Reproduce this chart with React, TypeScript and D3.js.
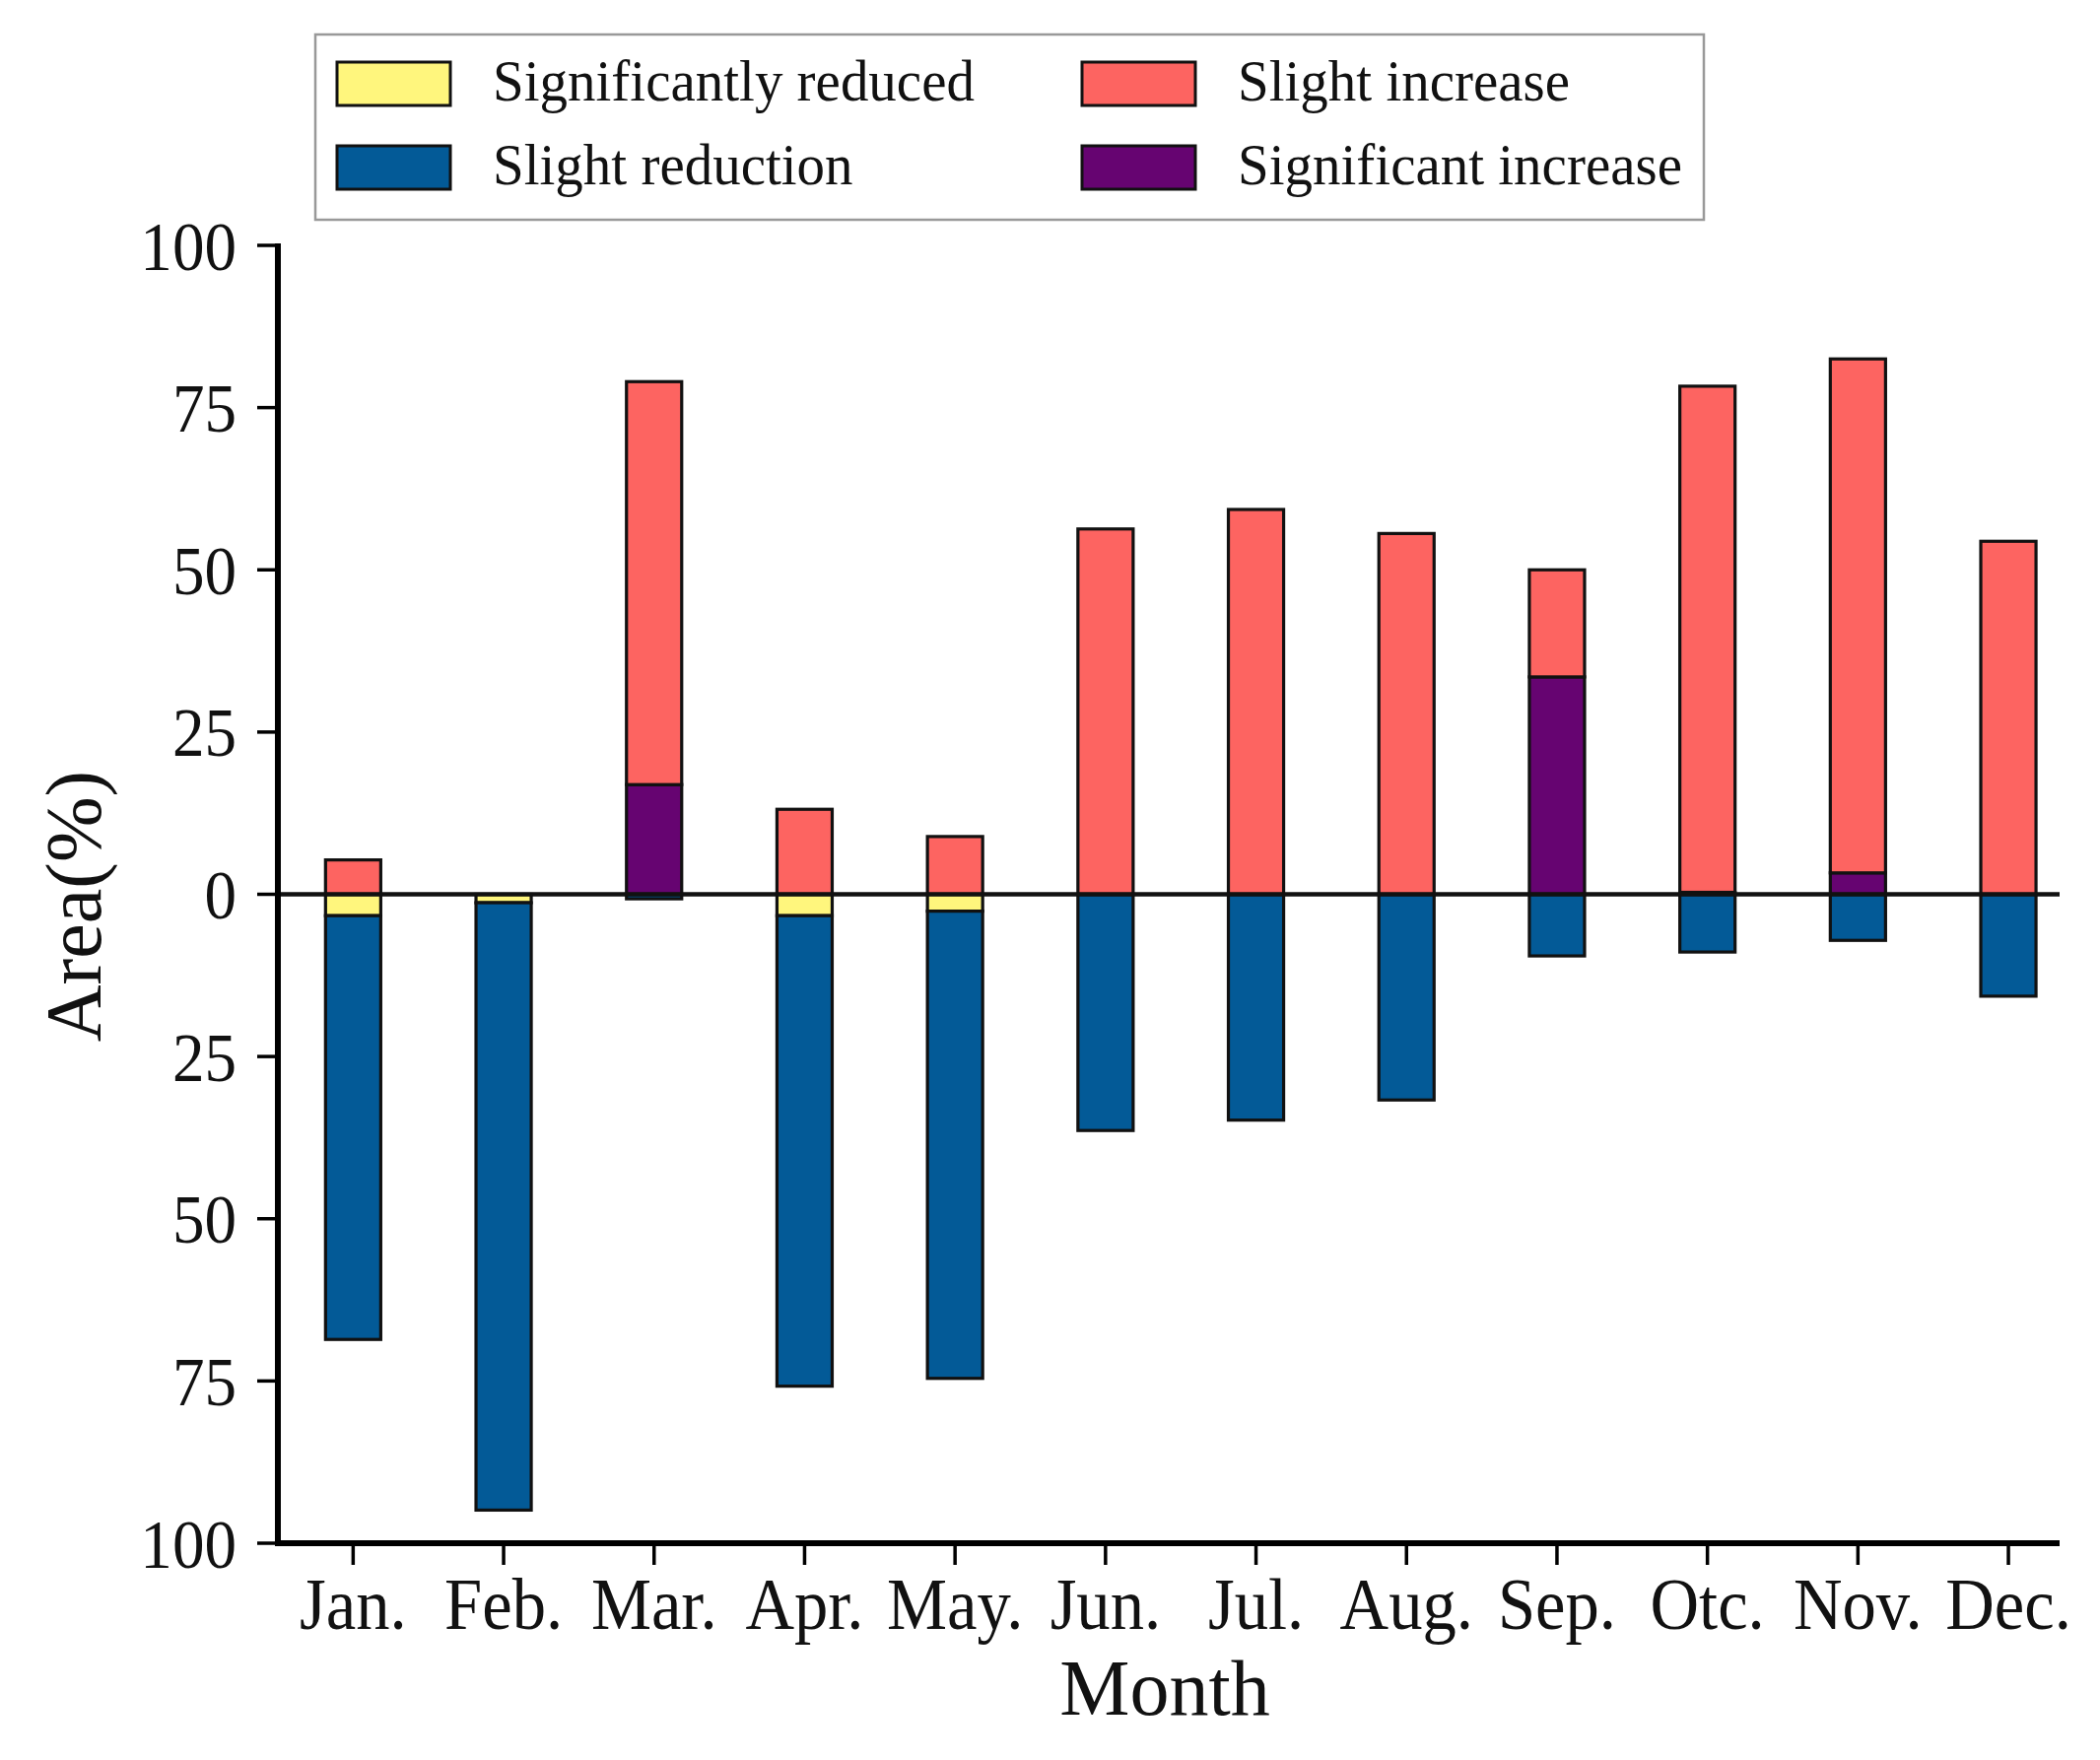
import * as d3 from "d3";

const months = ["Jan.", "Feb.", "Mar.", "Apr.", "May.", "Jun.", "Jul.", "Aug.", "Sep.", "Otc.", "Nov.", "Dec."];

// reductions are stored as magnitudes, drawn below zero
const sigReduced = [3.3, 1.3, 0, 3.3, 2.6, 0, 0, 0, 0, 0, 0, 0];
const slightReduction = [65.3, 93.6, 0.7, 72.5, 72.0, 36.4, 34.8, 31.7, 9.5, 8.9, 7.1, 15.7];
const sigIncrease = [0, 0, 16.9, 0, 0, 0, 0, 0, 33.5, 0.3, 3.3, 0];
const slightIncrease = [5.3, 0, 62.1, 13.1, 8.9, 56.3, 59.3, 55.6, 16.5, 78.0, 79.2, 54.4];

const yTicks = [-100, -75, -50, -25, 0, 25, 50, 75, 100];

const seriesKeys = ["sigReduced", "slightReduction", "sigIncrease", "slightIncrease"];
const seriesNames: Record<string, string> = {
  sigReduced: "Significantly reduced",
  slightReduction: "Slight reduction",
  slightIncrease: "Slight increase",
  sigIncrease: "Significant increase",
};
const colors: Record<string, string> = {
  sigReduced: "#FFF67D",
  slightReduction: "#035A97",
  slightIncrease: "#FD6461",
  sigIncrease: "#660471",
};

const W = 2131;
const H = 1786;
const left = 282;
const step = 152.7;
const axisRight = 2090;
const yTop = 249;
const yBottom = 1566;
const font = "'Liberation Serif', 'Times New Roman', serif";

export default function App() {
  const rows = months.map((m, i) => ({
    month: m,
    sigReduced: -sigReduced[i],
    slightReduction: -slightReduction[i],
    sigIncrease: sigIncrease[i],
    slightIncrease: slightIncrease[i],
  }));

  const stacked = d3
    .stack<any>()
    .keys(seriesKeys)
    .offset(d3.stackOffsetDiverging)(rows);

  const x = d3
    .scaleBand()
    .domain(months)
    .range([left, left + step * months.length])
    .paddingInner(0.633)
    .paddingOuter(0.3165);

  const y = d3.scaleLinear().domain([-100, 100]).range([yBottom, yTop]);

  const legendItems = [
    { key: "sigReduced", col: 0, row: 0 },
    { key: "slightReduction", col: 0, row: 1 },
    { key: "slightIncrease", col: 1, row: 0 },
    { key: "sigIncrease", col: 1, row: 1 },
  ];
  const patchX = [342, 1098];
  const textX = [500, 1256];
  const rowY = [85, 170];

  return (
    <svg
      width={W}
      height={H}
      style={{ position: "absolute", left: 0, top: 0, background: "#fff" }}
      fontFamily={font}
    >
      {/* bars */}
      {stacked.map((layer) => (
        <g key={layer.key}>
          {layer.map((d, i) => {
            const h = Math.abs(y(d[0]) - y(d[1]));
            if (h < 0.01) return null;
            return (
              <rect
                key={i}
                x={x(months[i])}
                y={Math.min(y(d[0]), y(d[1]))}
                width={x.bandwidth()}
                height={h}
                fill={colors[layer.key]}
                stroke="#111"
                strokeWidth={3.2}
              />
            );
          })}
        </g>
      ))}

      {/* zero line */}
      <line x1={left} x2={axisRight} y1={y(0)} y2={y(0)} stroke="#111" strokeWidth={4.5} />

      {/* y axis */}
      <line x1={left} x2={left} y1={yTop - 2} y2={yBottom + 3} stroke="#000" strokeWidth={6} />
      {yTicks.map((t) => (
        <g key={t}>
          <line x1={left - 21} x2={left} y1={y(t)} y2={y(t)} stroke="#000" strokeWidth={3.5} />
          <text
            transform={`translate(240,${y(t)}) scale(0.93,1)`}
            dy="0.35em"
            textAnchor="end"
            fontSize={70}
            fill="#111"
          >
            {Math.abs(t)}
          </text>
        </g>
      ))}

      {/* x axis */}
      <line x1={left - 3} x2={axisRight} y1={yBottom} y2={yBottom} stroke="#000" strokeWidth={6} />
      {months.map((m) => {
        const cx = (x(m) ?? 0) + x.bandwidth() / 2;
        return (
          <g key={m}>
            <line x1={cx} x2={cx} y1={yBottom} y2={yBottom + 22} stroke="#000" strokeWidth={3.5} />
            <text
              transform={`translate(${cx},1653) scale(0.94,1)`}
              textAnchor="middle"
              fontSize={73}
              fill="#111"
            >
              {m}
            </text>
          </g>
        );
      })}

      {/* axis titles */}
      <text x={1182} y={1740} textAnchor="middle" fontSize={80} fill="#111">
        Month
      </text>
      <text
        transform={`translate(102,${y(0) + 12}) rotate(-90)`}
        textAnchor="middle"
        fontSize={80}
        fill="#111"
      >
        Area(%)
      </text>

      {/* legend */}
      <rect x={320} y={35} width={1409} height={188} fill="#fff" stroke="#999" strokeWidth={2.5} />
      {legendItems.map((it) => (
        <g key={it.key}>
          <rect
            x={patchX[it.col]}
            y={rowY[it.row] - 22}
            width={115}
            height={44}
            fill={colors[it.key]}
            stroke="#111"
            strokeWidth={3}
          />
          <text
            transform={`translate(${textX[it.col]},${rowY[it.row] + 17}) scale(0.95,1)`}
            fontSize={60}
            fill="#111"
          >
            {seriesNames[it.key]}
          </text>
        </g>
      ))}
    </svg>
  );
}
